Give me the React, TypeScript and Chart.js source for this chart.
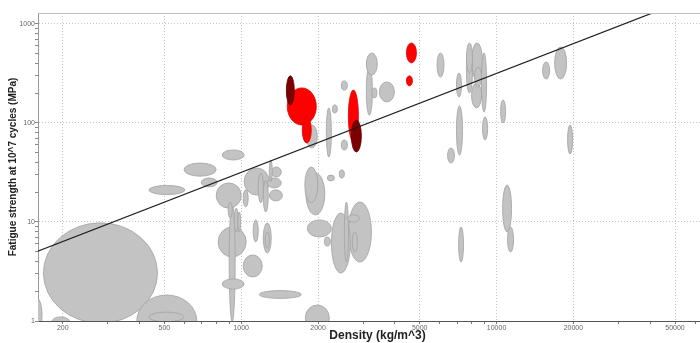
import React, { useEffect, useRef } from 'react';
import { Chart, registerables } from 'chart.js';

Chart.register(...registerables);

// ---- Axis tick labels ----
const xTickLabels = [200, 500, 1000, 2000, 5000, 10000, 20000, 50000];
const yTickLabels = [1, 10, 100, 1000];

// ---- Guide line (slope 1 on log-log) ----
const guideDensity = [150, 80000];
const guideStrength = [4.75, 2532];

// ---- Gray materials: density range (kg/m^3), fatigue strength range (MPa) ----
const grayDensityLow = [168, 390, 435, 151, 181, 435, 597, 842, 697, 798, 889, 939, 969, 812, 897, 842, 1018, 1177, 1782, 1027, 1288, 1265, 1311, 1018, 1166, 1220, 1288, 1114, 1220, 1242, 1774, 1791, 1815, 2116, 2174, 2422, 2255, 2535, 2628, 2723, 2604, 7100, 10560, 11040, 1799, 2154, 2466, 2275, 2466, 3090, 3090, 3250, 3475, 5845, 6966, 6966, 6427, 7622, 7622, 7980, 8200, 7980, 8730, 8810, 10370, 15140, 16880, 18970];
const grayDensityHigh = [470, 670, 597, 166, 213, 602, 798, 1027, 805, 1000, 922, 973, 995, 1046, 947, 1027, 1209, 1718, 2213, 1288, 1449, 1435, 1435, 1065, 1220, 1276, 1323, 1166, 1311, 1288, 1995, 2126, 2255, 2234, 2316, 2535, 2675, 2630, 3235, 2850, 2900, 7425, 11450, 11660, 1986, 2255, 2604, 2379, 2604, 3264, 3412, 3400, 3981, 6224, 7291, 7358, 6842, 8049, 8049, 8810, 8730, 8730, 9140, 9226, 10850, 16140, 18810, 19860];
const grayStrengthLow = [0.95, 0.55, 0.98, 0.77, 0.87, 18.9, 29, 42.3, 22.6, 13.8, 11.0, 7.9, 7.9, 4.43, 0.98, 2.1, 2.78, 1.69, 0.79, 18.7, 16.3, 22.1, 28.5, 14.2, 15.6, 12.6, 25.4, 6.28, 4.86, 5.46, 15.6, 11.8, 7.05, 5.72, 26, 27.8, 3.05, 3.94, 3.94, 4.98, 10, 3.94, 7.93, 4.98, 55.9, 45.3, 215, 126, 53.4, 120, 305, 179, 163, 291, 183, 47.5, 39.4, 320, 201, 272, 231, 142, 129, 67.3, 100, 278, 278, 48.6];
const grayStrengthHigh = [9.8, 1.83, 1.23, 1.71, 1.1, 23.4, 39.4, 53.4, 27.8, 24.8, 15.9, 13.8, 12.6, 8.9, 15.9, 2.66, 4.64, 2.03, 1.45, 35.1, 21.1, 27.8, 35.9, 21.1, 31.3, 26.6, 42.3, 10.5, 9.77, 7.93, 35.9, 31.3, 10.5, 7.05, 29.8, 33.5, 12.3, 15.9, 15.9, 7.93, 11.8, 8.9, 23.6, 8.9, 95.4, 142, 266, 152, 67.3, 368, 509, 226, 260, 509, 320, 148.5, 55.9, 643, 534, 643, 368, 254, 509, 115, 171, 413, 586, 95.4];

// ---- Highlighted materials (red) ----
const redDensityLow = [1515, 1734, 2628, 4436, 4436];
const redDensityHigh = [1968, 1881, 2877, 4855, 4684];
const redStrengthLow = [95.4, 62.8, 64.3, 404, 237];
const redStrengthHigh = [226, 115, 215, 643, 299];

// ---- Highlighted materials (dark red) ----
const darkRedDensityLow = [1502, 2699];
const darkRedDensityHigh = [1614, 2955];
const darkRedStrengthLow = [152, 50.9];
const darkRedStrengthHigh = [299, 107];

const FONT = "'Liberation Sans', Arial, Helvetica, sans-serif";

type Shape = { cx: number; cy: number; rx: number; ry: number; fill: string; stroke: string };

const ellipsePlugin = {
  id: 'materialEllipses',
  beforeDatasetsDraw(chart: any) {
    const { ctx, chartArea, scales } = chart;
    const xs = scales.x;
    const ys = scales.y;
    const build = (dl: number[], dh: number[], sl: number[], sh: number[], fill: string, stroke: string): Shape[] =>
      dl.map((d, i) => {
        const x1 = xs.getPixelForValue(d);
        const x2 = xs.getPixelForValue(dh[i]);
        const y1 = ys.getPixelForValue(sh[i]);
        const y2 = ys.getPixelForValue(sl[i]);
        return { cx: (x1 + x2) / 2, cy: (y1 + y2) / 2, rx: Math.abs(x2 - x1) / 2, ry: Math.abs(y2 - y1) / 2, fill, stroke };
      });
    const bySize = (a: Shape, b: Shape) => b.rx * b.ry - a.rx * a.ry;
    const gray = build(grayDensityLow, grayDensityHigh, grayStrengthLow, grayStrengthHigh, '#c3c3c3', '#a2a2a2').sort(bySize);
    const hi = [
      ...build(redDensityLow, redDensityHigh, redStrengthLow, redStrengthHigh, '#ff0000', '#e00000'),
      ...build(darkRedDensityLow, darkRedDensityHigh, darkRedStrengthLow, darkRedStrengthHigh, '#7c0000', '#5a0000'),
    ].sort(bySize);
    ctx.save();
    ctx.beginPath();
    ctx.rect(chartArea.left, chartArea.top, chartArea.right - chartArea.left, chartArea.bottom - chartArea.top);
    ctx.clip();
    [...gray, ...hi].forEach((s) => {
      ctx.beginPath();
      ctx.ellipse(s.cx, s.cy, Math.max(s.rx, 0.5), Math.max(s.ry, 0.5), 0, 0, Math.PI * 2);
      ctx.fillStyle = s.fill;
      ctx.fill();
      ctx.lineWidth = 0.8;
      ctx.strokeStyle = s.stroke;
      ctx.stroke();
    });
    ctx.restore();
  },
  afterDraw(chart: any) {
    const { ctx, chartArea } = chart;
    ctx.save();
    ctx.strokeStyle = '#bdbdbd';
    ctx.lineWidth = 1;
    ctx.beginPath();
    ctx.moveTo(chartArea.left, chartArea.top + 0.5);
    ctx.lineTo(chartArea.right, chartArea.top + 0.5);
    ctx.stroke();
    ctx.restore();
  },
};

const logTicks = (min: number, max: number) => {
  const out: { value: number }[] = [];
  for (let e = -1; e <= 6; e++) {
    for (let n = 1; n <= 9; n++) {
      const v = n * Math.pow(10, e);
      const r = Math.round(v * 1000) / 1000;
      if (r >= min && r <= max) out.push({ value: r });
    }
  }
  return out;
};

export default function App() {
  const ref = useRef<HTMLCanvasElement>(null);
  useEffect(() => {
    if (!ref.current) return;
    const chart = new Chart(ref.current, {
      type: 'scatter',
      data: {
        datasets: [
          {
            data: guideDensity.map((d, i) => ({ x: d, y: guideStrength[i] })),
            showLine: true,
            borderColor: '#1e1e1e',
            borderWidth: 1.2,
            pointRadius: 0,
            fill: false,
          } as any,
        ],
      },
      options: {
        animation: false,
        responsive: false,
        devicePixelRatio: 1,
        layout: { padding: { top: 13, left: 0, right: 0, bottom: 0 } },
        plugins: { legend: { display: false }, tooltip: { enabled: false } },
        scales: {
          x: {
            type: 'logarithmic',
            position: 'bottom',
            min: 160,
            max: 73000,
            afterBuildTicks: (s: any) => {
              s.ticks = logTicks(160, 73000);
            },
            afterFit: (s: any) => {
              s.height = 22;
            },
            ticks: {
              autoSkip: false,
              maxRotation: 0,
              minRotation: 0,
              padding: 0,
              color: '#666',
              font: { family: FONT, size: 7 },
              callback: (v: any) => (xTickLabels.includes(Number(v)) ? String(v) : ''),
            },
            grid: {
              color: (c: any) => (c.tick && xTickLabels.includes(c.tick.value) ? '#c6c6c6' : 'rgba(0,0,0,0)'),
              tickColor: '#777',
              tickLength: 3,
              lineWidth: 1,
            },
            border: { color: '#555', width: 1, dash: [1, 2] },
            title: {
              display: true,
              text: 'Density (kg/m^3)',
              color: '#222',
              font: { family: FONT, size: 12, weight: 'bold' },
              padding: { top: 0, bottom: 0 },
            },
          } as any,
          y: {
            type: 'logarithmic',
            position: 'left',
            min: 1,
            max: 1290,
            afterBuildTicks: (s: any) => {
              s.ticks = logTicks(1, 1290);
            },
            afterFit: (s: any) => {
              s.width = 38;
            },
            ticks: {
              autoSkip: false,
              padding: 0,
              color: '#666',
              font: { family: FONT, size: 7 },
              callback: (v: any) => (yTickLabels.includes(Number(v)) ? String(v) : ''),
            },
            grid: {
              color: (c: any) => (c.tick && yTickLabels.includes(c.tick.value) ? '#c6c6c6' : 'rgba(0,0,0,0)'),
              tickColor: '#888',
              tickLength: 3,
              lineWidth: 1,
            },
            border: { color: '#999', width: 1, dash: [1, 2] },
            title: {
              display: true,
              text: 'Fatigue strength at 10^7 cycles (MPa)',
              color: '#222',
              font: { family: FONT, size: 10, weight: 'bold' },
              padding: { top: 7, bottom: 0 },
            },
          } as any,
        },
      },
      plugins: [ellipsePlugin],
    });
    return () => chart.destroy();
  }, []);

  return (
    <div style={{ position: 'fixed', left: 0, top: 0, width: 700, height: 343, overflow: 'hidden', background: '#fff' }}>
      <canvas ref={ref} width={717} height={343} style={{ display: 'block', width: 717, height: 343 }} />
    </div>
  );
}
